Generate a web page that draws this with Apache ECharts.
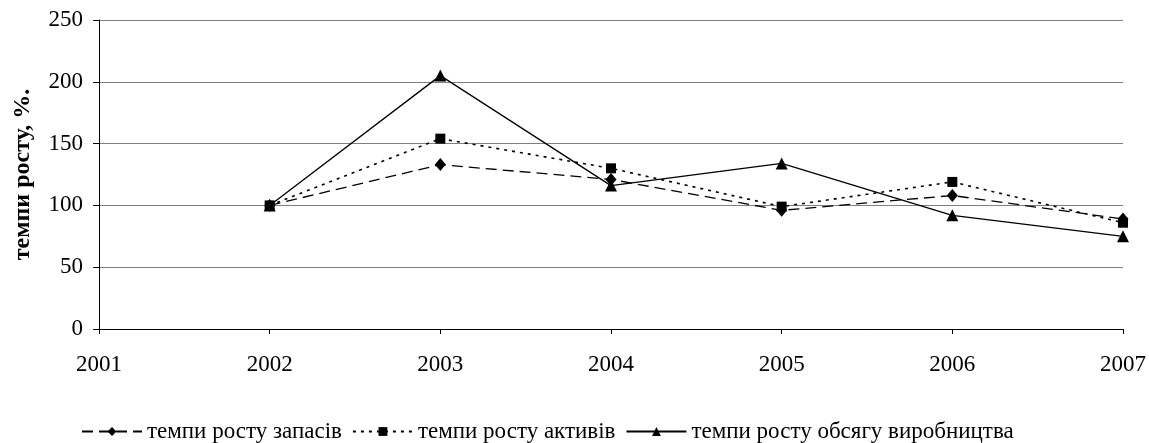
<!DOCTYPE html>
<html><head><meta charset="utf-8">
<script src="https://cdn.jsdelivr.net/npm/echarts@6/dist/echarts.min.js"></script>
<style>html,body{margin:0;padding:0;background:#fff}#c{width:1149px;height:443px}</style>
</head><body><div id="c"></div>
<script>
const categories = ['2001','2002','2003','2004','2005','2006','2007'];
const zapasy = [null, 100, 133, 121, 96, 108, 89];
const aktyvy = [null, 100, 154, 130, 99, 119, 86];
const obsyag = [null, 100, 205, 116, 134, 92, 75];
const names = ['темпи росту запасів', 'темпи росту активів', 'темпи росту обсягу виробництва'];
const font = '"Liberation Serif", "Times New Roman", serif';
const chart = echarts.init(document.getElementById('c'), null, {renderer:'canvas'});
chart.setOption({
  animation:false,
  textStyle:{fontFamily:font,color:'#000'},
  grid:{left:99,right:26,top:20,bottom:114,containLabel:false},
  legend:{top:415,left:76,itemGap:10,itemWidth:60,itemHeight:11,
    textStyle:{fontFamily:font,fontSize:23,color:'#000'},
    data:names},
  xAxis:{type:'category',data:categories,boundaryGap:false,
    axisLine:{lineStyle:{color:'#000',width:1}},
    axisTick:{show:true,inside:false,length:5,lineStyle:{color:'#000'},alignWithLabel:true},
    axisLabel:{fontFamily:font,fontSize:23,color:'#000',margin:24}},
  yAxis:{type:'value',min:0,max:250,interval:50,
    name:'темпи росту, %.',nameLocation:'middle',nameGap:64,nameRotate:90,
    nameTextStyle:{fontFamily:font,fontSize:24,fontWeight:'bold',color:'#000'},
    axisLine:{show:true,lineStyle:{color:'#000',width:1}},
    axisTick:{show:true,length:6,lineStyle:{color:'#000'}},
    axisLabel:{fontFamily:font,fontSize:23,color:'#000',margin:16},
    splitLine:{lineStyle:{color:'#808080',width:1}}},
  series:[
    {name:names[0],type:'line',data:zapasy,symbol:'diamond',symbolSize:[11,13],
     lineStyle:{color:'#000',width:1.3,type:[11,6]},itemStyle:{color:'#000'}},
    {name:names[1],type:'line',data:aktyvy,symbol:'rect',symbolSize:10,
     lineStyle:{color:'#000',width:1.6,type:[3,5]},itemStyle:{color:'#000'}},
    {name:names[2],type:'line',data:obsyag,symbol:'triangle',symbolSize:12,
     lineStyle:{color:'#000',width:1.3,type:'solid'},itemStyle:{color:'#000'}}
  ]
});
</script></body></html>
